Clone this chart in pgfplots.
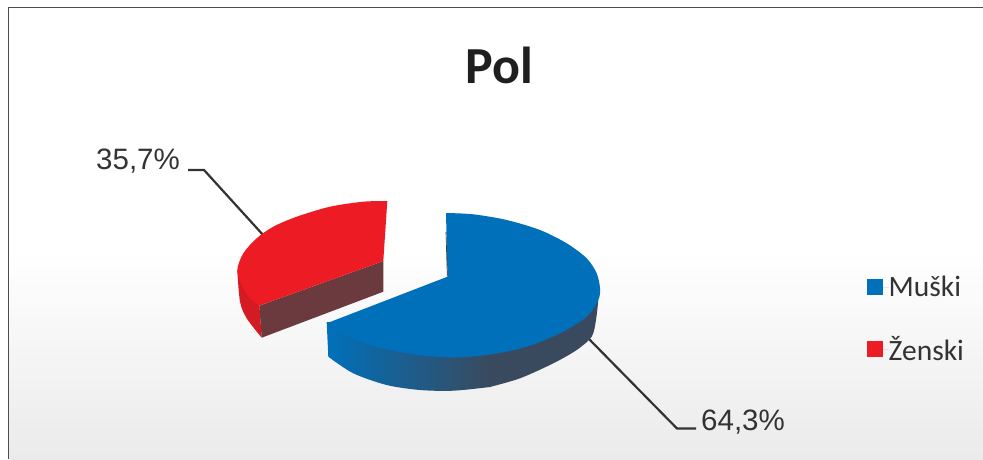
\documentclass[border=0pt]{standalone}
\usepackage{pgfplots}
\pgfplotsset{compat=1.18}
\usepackage{fontspec}
\setmainfont{Liberation Sans}
\newfontfamily\carlito{Carlito}
\definecolor{mblue}{HTML}{0070BA}
\definecolor{mmid}{HTML}{1C5C9C}
\definecolor{sdark}{HTML}{3A4A5E}
\definecolor{fred}{HTML}{ED1C24}
\definecolor{sred}{HTML}{D41B23}
\definecolor{brownr}{HTML}{6B3A3E}
\definecolor{ink}{HTML}{333333}
\begin{document}
\begin{tikzpicture}
\path (0,0) rectangle (983pt,459pt);
\begin{axis}[
  at={(0,0)}, anchor=south west,
  scale only axis, width=983pt, height=459pt,
  xmin=0, xmax=983, ymin=0, ymax=459, y dir=reverse,
  hide axis,
  legend style={at={(axis cs:866.5,276)}, anchor=north west, draw=none, fill=none,
    font=\carlito\fontsize{29.5}{32}\selectfont, text=ink, row sep=38pt, inner sep=0pt,
    nodes={inner sep=0pt, anchor=west}},
  legend cell align=left,
]
% background
\addplot[forget plot, draw=none, shade, top color=white, bottom color=black!8!white]
  coordinates {(9,250) (983,250) (983,459) (9,459)} -- cycle;
\addplot[forget plot, color=black!70, line width=1.4pt]
  coordinates {(8.5,459) (8.5,7.5) (983,7.5)};
% leader lines
\addplot[forget plot, color=ink, line width=2.2pt] coordinates {(188,170) (204,170) (264,236)};
\addplot[forget plot, color=ink, line width=2.2pt] coordinates {(588,338) (677,428.5) (696,428.5)};
% blue slice side
\addplot[forget plot, draw=none, shade, left color=mblue, middle color=mmid, right color=sdark, smooth]
  coordinates {(328.3,356.7) (353.3,373.3) (386.7,385) (420,390) (453.3,390.7) (490,387)} -- (490,340) -- (326.7,322) -- cycle;
\addplot[forget plot, fill=sdark, draw=none, smooth]
  coordinates {(489,387.2) (520,378.3) (553.3,363.3) (576.7,350) (591.7,336.7) (596,320) (598.3,300)} -- (489,340) -- cycle;
% blue top face
\addplot[fill=mblue, draw=none, smooth, legend image code/.code={\fill[mblue] (0pt,-8pt) rectangle (16pt,8pt); \path (0pt,0pt) -- (22pt,0pt);}]
  coordinates {(446,213) (473.3,214.3) (506.7,220) (540,230) (566.7,243.3) (586.7,258.3) (596.7,273.3) (600,288.3) (598.3,300) (586.7,316.7) (560,333.3) (526.7,346.7) (493.3,354) (460,357.3) (426.7,356) (393.3,350.7) (360,341.7) (326.7,323.3)}
  -- (447.5,276.7) -- cycle;
\addplot[forget plot, color=black!75, line width=0.7pt] coordinates {(446,232) (447.3,275.5)};
% red slice sides
\addplot[forget plot, fill=sred, draw=none, smooth]
  coordinates {(237.3,270) (240,301.7) (246.7,318.3) (261.7,337.7)} -- (259,300) -- cycle;
\addplot[forget plot, fill=brownr, draw=none]
  coordinates {(259.3,305.7) (383.3,261) (383.3,291.7) (261.7,337.7)} -- cycle;
% red top face
\addplot[fill=fred, draw=none, smooth, legend image code/.code={\fill[fred] (0pt,-8pt) rectangle (16pt,8pt); \path (0pt,0pt) -- (22pt,0pt);}]
  coordinates {(387.3,201) (363.3,201.7) (330,206.7) (296.7,216.7) (273.3,226.7) (256.7,238.3) (243.3,253.3) (237.3,270) (241.7,285) (250,298.3) (259.3,305.7)}
  -- (383.3,261) -- cycle;
\legend{Muški, Ženski}
\node[anchor=base, text=black!88, font=\carlito\bfseries\fontsize{52}{52}\selectfont] at (axis cs:499.5,83) {Pol};
\node[anchor=base west, inner sep=0pt, text=ink, font=\fontsize{29.5}{30}\selectfont] at (axis cs:96,169) {35,7\%};
\node[anchor=base west, inner sep=0pt, text=ink, font=\fontsize{29.5}{30}\selectfont] at (axis cs:701,430) {64,3\%};
\end{axis}
\end{tikzpicture}
\end{document}
